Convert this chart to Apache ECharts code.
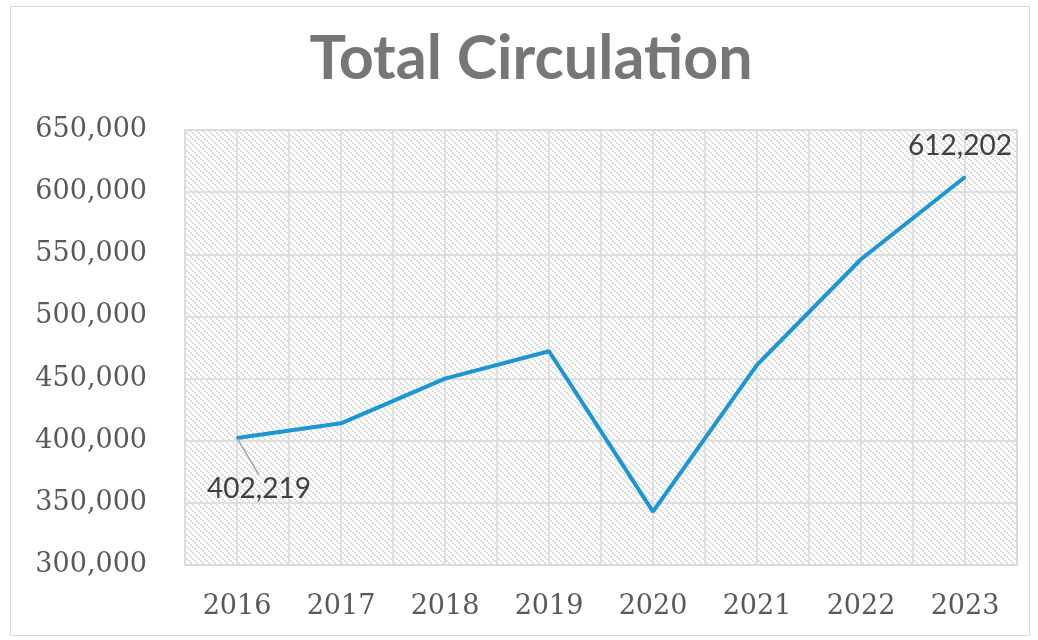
<!DOCTYPE html>
<html>
<head>
<meta charset="utf-8">
<script src="https://cdn.jsdelivr.net/npm/echarts@6/dist/echarts.min.js"></script>
<style>
html,body{margin:0;padding:0;background:#fff;}
#wrap{position:relative;width:1038px;height:640px;}
#chart{position:absolute;left:0;top:0;width:1038px;height:640px;}
#frame{position:absolute;left:10px;top:6px;width:1020px;height:630px;border:1.5px solid #d9d9d9;box-sizing:border-box;pointer-events:none;}
</style>
</head>
<body>
<div id="wrap"><div id="chart"></div><div id="frame"></div></div>
<script>
const years = ['2016','2017','2018','2019','2020','2021','2022','2023'];
const circulation = [402219, 414000, 450000, 472000, 343000, 461000, 546000, 612202];
const labeledIndexes = [0, 7];
const yMin = 300000, yMax = 650000, yStep = 50000;

function makePattern(){
  const c = document.createElement('canvas');
  const n = 6;
  c.width = n; c.height = n;
  const ctx = c.getContext('2d');
  ctx.fillStyle = '#ffffff';
  ctx.fillRect(0,0,n,n);
  ctx.fillStyle = '#dfdfdf';
  for (let k = 0; k < n; k += 2) {
    ctx.fillRect(k, k, 2, 2);
  }
  return c;
}

const seriesData = circulation.map((v, i) => {
  const show = labeledIndexes.indexOf(i) >= 0;
  return {
    value: v,
    label: { show: show },
    labelLine: { show: i === 0 }
  };
});

const chart = echarts.init(document.getElementById('chart'), null, {renderer: 'canvas'});
chart.setOption({
  animation: false,
  backgroundColor: '#ffffff',
  title: {
    text: 'Total Circulation',
    left: 526,
    textAlign: 'center',
    top: 24,
    textStyle: { fontFamily: 'Lato', fontWeight: 'bold', fontSize: 61, color: '#767676' }
  },
  grid: {
    left: 185, right: 21, top: 130, bottom: 75,
    show: true,
    backgroundColor: { image: makePattern(), repeat: 'repeat' },
    borderColor: '#d9d9d9', borderWidth: 1.5
  },
  xAxis: [{
    type: 'category',
    data: years,
    boundaryGap: true,
    axisLine: { show: true, lineStyle: { color: '#d9d9d9', width: 1.5 } },
    axisTick: { show: false },
    splitLine: { show: false },
    axisLabel: { fontFamily: 'DejaVu Serif', fontSize: 27, color: '#595959', margin: 28 }
  }, {
    type: 'value',
    min: 0, max: 16, interval: 1,
    position: 'bottom',
    axisLine: { show: false },
    axisTick: { show: false },
    axisLabel: { show: false },
    splitLine: { show: true, lineStyle: { color: '#d9d9d9', width: 1.5 } }
  }],
  yAxis: {
    type: 'value',
    min: yMin, max: yMax, interval: yStep,
    axisLine: { show: false },
    axisTick: { show: false },
    splitLine: { show: true, lineStyle: { color: '#d9d9d9', width: 1.5 } },
    axisLabel: {
      fontFamily: 'DejaVu Serif', fontSize: 27, color: '#595959', margin: 38,
      formatter: v => v.toLocaleString('en-US')
    }
  },
  series: [{
    type: 'line',
    xAxisIndex: 0,
    data: seriesData,
    showSymbol: true,
    symbol: 'circle',
    symbolSize: 2,
    lineStyle: { color: '#1a96d4', width: 4 },
    itemStyle: { color: '#1a96d4' },
    label: {
      position: 'inside',
      fontFamily: 'Lato', fontSize: 28, color: '#404040',
      formatter: p => p.value.toLocaleString('en-US')
    },
    labelLine: { lineStyle: { color: '#a6a6a6', width: 1.5 } },
    labelLayout: function (p) {
      if (p.dataIndex === 0) return { dx: 22, dy: 51 };
      if (p.dataIndex === 7) return { dx: -5, dy: -31 };
      return {};
    },
    emphasis: { disabled: true }
  }]
});
</script>
</body>
</html>
